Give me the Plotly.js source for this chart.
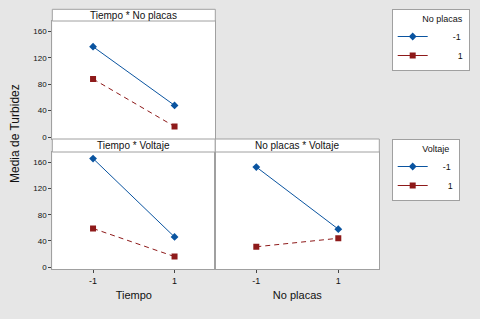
<!DOCTYPE html>
<html><head><meta charset="utf-8">
<script src="https://cdn.plot.ly/plotly-3.0.1.min.js"></script>
<style>html,body{margin:0;padding:0;background:#e6e6e6}</style>
</head><body><div id="chart" style="width:480px;height:319px"></div>
<script>
// Data
const levels = [-1, 1];
const levelLabels = ['-1', '1'];
// Tiempo * No placas (x = Tiempo, series = No placas)
const tNp_npMinus1 = [137, 48];
const tNp_npPlus1 = [88, 16];
// Tiempo * Voltaje (x = Tiempo, series = Voltaje)
const tV_vMinus1 = [166, 46];
const tV_vPlus1 = [59, 16];
// No placas * Voltaje (x = No placas, series = Voltaje)
const npV_vMinus1 = [153, 58];
const npV_vPlus1 = [31, 44];
const yTicks = [0, 40, 80, 120, 160];
const panelTitles = ['Tiempo * No placas', 'Tiempo * Voltaje', 'No placas * Voltaje'];
const xTitles = ['Tiempo', 'No placas'];
const yTitle = 'Media de Turbidez';
const legendTitles = ['No placas', 'Voltaje'];

const W = 480, H = 319;
const px = v => v / W, py = v => 1 - v / H;
const blue = '#0a54a0', red = '#8e1a1a';
const FONT = 'Liberation Sans, Arial, sans-serif';
const nb = n => '\u00a0'.repeat(n);

function tr(y, xa, ya, color, sym, dash) {
  return {x: levels, y: y, xaxis: xa, yaxis: ya, type: 'scatter', mode: 'lines+markers',
    line: {color: color, width: 1, dash: dash}, marker: {color: color, symbol: sym, size: 6},
    showlegend: false, hoverinfo: 'skip'};
}
// legend key entries (no data points of their own)
function key(color, sym, name, legend, xa, ya) {
  return {x: [null], y: [null], xaxis: xa, yaxis: ya, type: 'scatter', mode: 'lines+markers',
    line: {color: color, width: 1}, marker: {color: color, symbol: sym, size: 6},
    name: name, legend: legend, showlegend: true, hoverinfo: 'skip'};
}
const dash = '5px,4px';
const data = [
  tr(tNp_npMinus1, 'x', 'y', blue, 'diamond', 'solid'),
  tr(tNp_npPlus1, 'x', 'y', red, 'square', dash),
  tr(tV_vMinus1, 'x2', 'y2', blue, 'diamond', 'solid'),
  tr(tV_vPlus1, 'x2', 'y2', red, 'square', dash),
  tr(npV_vMinus1, 'x3', 'y3', blue, 'diamond', 'solid'),
  tr(npV_vPlus1, 'x3', 'y3', red, 'square', dash),
  key(blue, 'diamond', nb(8) + levelLabels[0], 'legend', 'x', 'y'),
  key(red, 'square', nb(10) + levelLabels[1], 'legend', 'x', 'y'),
  key(blue, 'diamond', nb(4) + levelLabels[0], 'legend2', 'x2', 'y2'),
  key(red, 'square', nb(6) + levelLabels[1], 'legend2', 'x2', 'y2')
];

const xL = [52.3, 215.3], xR = [215.3, 379.3];
const yTop = [21, 139], yBot = [152, 269];
const frame = '#a0a0a0';
function xax(dom, anchor, showLabels, title) {
  return {domain: [px(dom[0]), px(dom[1])], anchor: anchor, range: [-2, 2], tickvals: levels, ticktext: levelLabels,
    showticklabels: showLabels, ticks: showLabels ? 'outside' : '', ticklen: 3, tickcolor: '#444',
    showgrid: false, zeroline: false, showline: true, mirror: true, linecolor: frame, linewidth: 1,
    tickfont: {size: 9, color: '#111', family: FONT},
    title: title ? {text: title, font: {size: 11, color: '#111', family: FONT}, standoff: 6} : undefined,
    fixedrange: true};
}
function yax(dom, anchor, showLabels) {
  return {domain: [py(dom[1]), py(dom[0])], anchor: anchor, range: [-3, 176], tickvals: yTicks,
    showticklabels: showLabels, ticks: showLabels ? 'outside' : '', ticklen: 3, tickcolor: '#444',
    showgrid: false, zeroline: false, showline: true, mirror: true, linecolor: frame, linewidth: 1,
    tickfont: {size: 8, color: '#111', family: FONT}, fixedrange: true};
}
const headerRects = [
  [xL[0], xL[1], 9.3, 21], [xL[0], xL[1], 139, 152], [xR[0], xR[1], 139, 152]
];
const shapes = headerRects.map(r => ({type: 'rect', xref: 'paper', yref: 'paper',
  x0: px(r[0]), x1: px(r[1]), y0: py(r[3]), y1: py(r[2]),
  fillcolor: 'white', line: {color: frame, width: 1}}));
const annotations = headerRects.map((r, i) => ({xref: 'paper', yref: 'paper',
  x: px((r[0] + r[1]) / 2), y: py((r[2] + r[3]) / 2), text: panelTitles[i], showarrow: false,
  xanchor: 'center', yanchor: 'middle', font: {size: 10, color: '#111', family: FONT}}));
annotations.push({xref: 'paper', yref: 'paper', x: px(15), y: py(134), text: yTitle, textangle: -90,
  showarrow: false, xanchor: 'center', yanchor: 'middle', font: {size: 12, color: '#111', family: FONT}});

function leg(yTopPx, title, padN) {
  return {x: px(391.7), y: py(yTopPx), xanchor: 'left', yanchor: 'top', bgcolor: 'white',
    bordercolor: frame, borderwidth: 1, font: {size: 9, color: '#111', family: FONT},
    title: {text: nb(padN) + title, side: 'top', font: {size: 9, color: '#111', family: FONT}},
    itemwidth: 30, tracegroupgap: 0};
}
const layout = {
  width: W, height: H, margin: {l: 0, r: 0, t: 0, b: 0, autoexpand: false},
  paper_bgcolor: '#e6e6e6', plot_bgcolor: 'white',
  xaxis: xax(xL, 'y', false), yaxis: yax(yTop, 'x', true),
  xaxis2: xax(xL, 'y2', true, xTitles[0]), yaxis2: yax(yBot, 'x2', true),
  xaxis3: xax(xR, 'y3', true, xTitles[1]), yaxis3: yax(yBot, 'x3', false),
  legend: leg(9.3, legendTitles[0], 11), legend2: leg(139.3, legendTitles[1], 11),
  shapes: shapes, annotations: annotations
};
Plotly.newPlot('chart', data, layout, {staticPlot: true, displayModeBar: false});
</script></body></html>
